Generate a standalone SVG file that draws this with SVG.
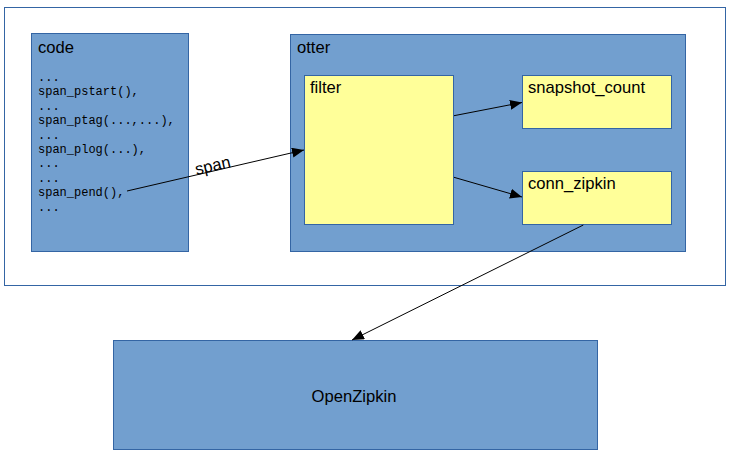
<svg xmlns="http://www.w3.org/2000/svg" width="732" height="457" viewBox="0 0 732 457">
<style>
.blue{fill:#729fcf;stroke:#3465a4;stroke-width:1}
.yel{fill:#ffff99;stroke:#3465a4;stroke-width:1}
.lbl{font-family:"Liberation Sans",Arial,sans-serif;font-size:16.6px;fill:#000}
.mono{font-family:"Liberation Mono","Courier New",monospace;font-size:12px;fill:#000}
.con{stroke:#000;stroke-width:1;fill:none;marker-end:url(#ah)}
</style>
<defs>
<marker id="ah" viewBox="0 0 12 10" refX="12" refY="5" markerWidth="12" markerHeight="10" markerUnits="userSpaceOnUse" orient="auto">
<path d="M0,0 L12,5 L0,10 z" fill="#000"/>
</marker>
</defs>
<rect width="732" height="457" fill="#fff"/>
<g id="frame">
<rect x="4.5" y="7.5" width="721" height="278" fill="#fff" stroke="#3465a4" stroke-width="1"/>
</g>
<g id="code">
<rect class="blue" x="31.5" y="33.5" width="157" height="218"/>
<text class="lbl" x="38" y="53">code</text>
<text class="mono" x="38" y="81">...</text>
<text class="mono" x="38" y="95.4">span_pstart(),</text>
<text class="mono" x="38" y="109.8">...</text>
<text class="mono" x="38" y="124.2">span_ptag(...,...),</text>
<text class="mono" x="38" y="138.6">...</text>
<text class="mono" x="38" y="153">span_plog(...),</text>
<text class="mono" x="38" y="167.4">...</text>
<text class="mono" x="38" y="181.8">...</text>
<text class="mono" x="38" y="196.2">span_pend(),</text>
<text class="mono" x="38" y="210.6">...</text>
</g>
<g id="otter">
<rect class="blue" x="290.5" y="34.5" width="395" height="217"/>
<text class="lbl" x="297" y="53">otter</text>
</g>
<g id="filter">
<rect class="yel" x="304.5" y="75.5" width="149" height="149"/>
<text class="lbl" x="310" y="93">filter</text>
</g>
<g id="snapshot_count">
<rect class="yel" x="522.5" y="75.5" width="149" height="53"/>
<text class="lbl" x="528" y="93">snapshot_count</text>
</g>
<g id="conn_zipkin">
<rect class="yel" x="522.5" y="171.5" width="149" height="53"/>
<text class="lbl" x="528" y="189">conn_zipkin</text>
</g>
<g id="openzipkin">
<rect class="blue" x="113.5" y="340.5" width="484" height="109"/>
<text class="lbl" x="354" y="401.5" text-anchor="middle">OpenZipkin</text>
</g>
<g id="connectors">
<path class="con" d="M127,191 L304,150"/>
<text class="lbl" x="214" y="171" text-anchor="middle" transform="rotate(-13 214 171)">span</text>
<path class="con" d="M454,115.7 L522,102.5"/>
<path class="con" d="M454,177.3 L522,197"/>
<path class="con" d="M583.3,225 L352,340"/>
</g>
</svg>
